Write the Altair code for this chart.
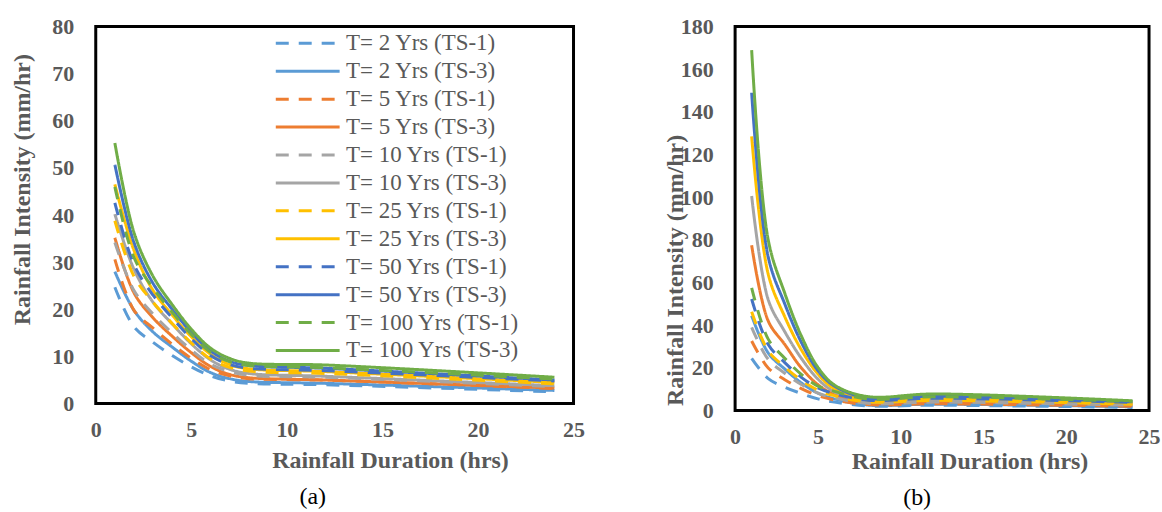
import altair as alt
import pandas as pd

a_durations = [1, 2, 3, 4, 5, 6, 7, 8, 12, 24]
b_durations = [1, 2, 3, 4, 5, 6, 8, 12, 24]

series = [
    "T= 2 Yrs (TS-1)", "T= 2 Yrs (TS-3)",
    "T= 5 Yrs (TS-1)", "T= 5 Yrs (TS-3)",
    "T= 10 Yrs (TS-1)", "T= 10 Yrs (TS-3)",
    "T= 25 Yrs (TS-1)", "T= 25 Yrs (TS-3)",
    "T= 50 Yrs (TS-1)", "T= 50 Yrs (TS-3)",
    "T= 100 Yrs (TS-1)", "T= 100 Yrs (TS-3)",
]

# Panel (a) intensities (mm/hr) at a_durations
a_2_ts1 = [24.7, 16.3, 13.0, 10.2, 7.8, 5.9, 4.8, 4.3, 4.0, 2.5]
a_2_ts3 = [28.0, 19.8, 15.2, 12.0, 9.0, 6.6, 5.3, 4.7, 4.3, 2.8]
a_5_ts1 = [30.6, 19.8, 16.0, 12.6, 9.6, 7.2, 5.9, 5.3, 5.0, 3.2]
a_5_ts3 = [35.2, 23.5, 18.2, 14.3, 10.8, 7.9, 6.2, 5.5, 5.0, 3.3]
a_10_ts1 = [34.2, 24.0, 19.0, 15.0, 11.4, 8.4, 6.8, 6.0, 5.6, 3.6]
a_10_ts3 = [40.2, 28.5, 21.5, 16.9, 12.7, 9.3, 7.3, 6.4, 5.8, 3.8]
a_25_ts1 = [38.8, 27.0, 21.5, 17.0, 12.9, 9.5, 7.7, 6.9, 6.4, 4.2]
a_25_ts3 = [46.5, 32.5, 24.0, 18.8, 14.2, 10.5, 8.3, 7.4, 6.8, 4.5]
a_50_ts1 = [42.6, 29.5, 23.0, 18.2, 13.8, 10.2, 8.3, 7.5, 7.0, 4.8]
a_50_ts3 = [50.7, 34.2, 25.5, 20.0, 15.1, 11.2, 9.0, 8.1, 7.5, 5.0]
a_100_ts1 = [46.0, 31.0, 24.5, 19.4, 14.7, 10.9, 8.9, 8.1, 7.6, 5.2]
a_100_ts3 = [55.3, 36.3, 27.0, 21.0, 15.8, 11.8, 9.6, 8.6, 8.2, 5.6]

# Panel (b) intensities (mm/hr) at b_durations
b_2_ts1 = [24.5, 15.0, 11.0, 8.0, 5.5, 4.0, 2.2, 2.5, 1.5]
b_2_ts3 = [44.5, 27.0, 19.5, 13.0, 8.2, 5.5, 2.6, 3.0, 1.8]
b_5_ts1 = [32.6, 20.0, 14.5, 10.3, 7.0, 5.0, 2.8, 3.2, 2.0]
b_5_ts3 = [77.5, 42.0, 31.0, 20.0, 12.2, 7.5, 3.5, 4.2, 2.5]
b_10_ts1 = [39.0, 24.0, 17.5, 12.2, 8.2, 6.0, 3.4, 4.0, 2.5]
b_10_ts3 = [100.6, 52.0, 37.0, 24.5, 14.8, 8.8, 4.2, 5.0, 3.0]
b_25_ts1 = [46.3, 28.0, 20.5, 14.2, 9.6, 7.0, 4.1, 4.8, 3.0]
b_25_ts3 = [128.5, 64.0, 44.0, 28.5, 17.2, 10.2, 5.0, 6.0, 3.5]
b_50_ts1 = [52.3, 31.0, 22.5, 15.6, 10.6, 8.0, 4.9, 5.8, 3.8]
b_50_ts3 = [149.0, 72.0, 50.0, 32.0, 18.8, 11.5, 5.8, 6.8, 4.1]
b_100_ts1 = [57.5, 33.5, 24.5, 17.0, 11.5, 9.0, 5.5, 6.5, 4.3]
b_100_ts3 = [169.0, 80.0, 55.0, 35.0, 20.3, 12.0, 6.6, 7.8, 4.6]

a_series = [a_2_ts1, a_2_ts3, a_5_ts1, a_5_ts3, a_10_ts1, a_10_ts3,
            a_25_ts1, a_25_ts3, a_50_ts1, a_50_ts3, a_100_ts1, a_100_ts3]
b_series = [b_2_ts1, b_2_ts3, b_5_ts1, b_5_ts3, b_10_ts1, b_10_ts3,
            b_25_ts1, b_25_ts3, b_50_ts1, b_50_ts3, b_100_ts1, b_100_ts3]

a_colors = ["#5B9BD5", "#5B9BD5", "#ED7D31", "#ED7D31", "#A5A5A5", "#A5A5A5",
            "#FFC000", "#FFC000", "#4472C4", "#4472C4", "#70AD47", "#70AD47"]
b_colors = ["#4472C4", "#4472C4", "#ED7D31", "#ED7D31", "#A5A5A5", "#A5A5A5",
            "#FFC000", "#FFC000", "#5B9BD5", "#5B9BD5", "#70AD47", "#70AD47"]

dash_range = [[13, 10], [1, 0]] * 6

FONT = "Liberation Serif"
GRAY = "#595959"


def to_frame(durations, values_list):
    rows = []
    for name, vals in zip(series, values_list):
        for d, v in zip(durations, vals):
            rows.append({"series": name, "duration": d, "intensity": v})
    return pd.DataFrame(rows)


def panel(df, colors, ymax, ystep, width, height, lx, ly, clip_h,
          xtitle_x, xtitle_y, ytitle_x, ytitle_y, caption, cap_dx):
    leg = alt.Legend(
        title=None, orient="none", legendX=lx, legendY=ly,
        symbolType="stroke", symbolSize=4096, symbolStrokeWidth=3,
        clipHeight=clip_h, rowPadding=0, padding=0,
        labelFont=FONT, labelFontSize=23, labelColor=GRAY,
        labelLimit=300, labelOffset=5,
    )
    return alt.Chart(df).mark_line(
        interpolate="catmull-rom", strokeWidth=3, clip=True
    ).encode(
        x=alt.X("duration:Q",
                scale=alt.Scale(domain=[0, 25], nice=False),
                axis=alt.Axis(values=[0, 5, 10, 15, 20, 25],
                              title="Rainfall Duration (hrs)",
                              labelFlush=False, labelOverlap=False,
                              labelPadding=16,
                              titleX=xtitle_x, titleY=xtitle_y,
                              titleBaseline="middle", titleAlign="center")),
        y=alt.Y("intensity:Q",
                scale=alt.Scale(domain=[0, ymax], nice=False),
                axis=alt.Axis(values=list(range(0, ymax + 1, ystep)),
                              title="Rainfall Intensity (mm/hr)",
                              labelPadding=22,
                              titleX=ytitle_x, titleY=ytitle_y,
                              titleBaseline="middle", titleAlign="center")),
        color=alt.Color("series:N", sort=series,
                        scale=alt.Scale(domain=series, range=colors),
                        legend=leg),
        strokeDash=alt.StrokeDash("series:N", sort=series,
                                  scale=alt.Scale(domain=series, range=dash_range),
                                  legend=leg),
    ).properties(
        width=width, height=height,
        title=alt.TitleParams(caption, orient="bottom", anchor="middle",
                              frame="group", dx=cap_dx, offset=13,
                              font=FONT, fontSize=24, fontWeight="normal",
                              color="#000000"),
    )


left = panel(to_frame(a_durations, a_series), a_colors, 80, 10, 479, 378,
             179, 3, 27.5, 295, 57, -73, 163, "(a)", -22)
right = panel(to_frame(b_durations, b_series), b_colors, 180, 20, 415, 385,
              145, 13, 26.3, 235, 51, -60, 244, "(b)", -25)

chart = alt.hconcat(left, right, spacing=75).configure_view(
    stroke="black", strokeWidth=3
).configure_axis(
    domain=False, ticks=False, grid=False,
    labelFont=FONT, labelFontWeight="bold", labelFontSize=22, labelColor=GRAY,
    titleFont=FONT, titleFontWeight="bold", titleFontSize=24, titleColor=GRAY,
).properties(
    padding={"left": 9, "top": 13, "right": 0, "bottom": 0}
)

chart.save("out.html", embed_options={"renderer": "svg", "actions": False})
